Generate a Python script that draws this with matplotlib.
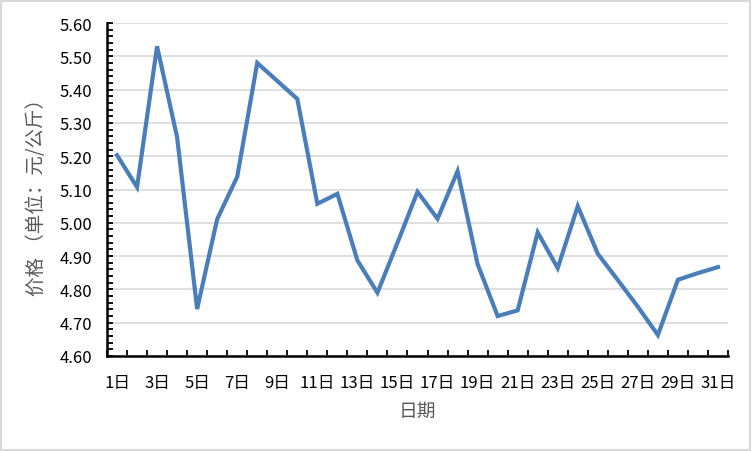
import matplotlib
matplotlib.use("Agg")
import matplotlib.pyplot as plt
from matplotlib.ticker import MultipleLocator, FixedLocator, FixedFormatter
from matplotlib.patches import Rectangle

plt.rcParams['font.family'] = ['Noto Sans CJK SC', 'DejaVu Sans']

days = list(range(1, 32))
prices = [5.203, 5.107, 5.530, 5.257, 4.741, 5.011, 5.138, 5.480, 5.426, 5.372,
          5.057, 5.087, 4.887, 4.790, 4.940, 5.093, 5.012, 5.155, 4.876, 4.720,
          4.737, 4.971, 4.864, 5.050, 4.907, 4.828, 4.748, 4.663, 4.829, 4.849,
          4.867]
tick_days = list(range(1, 32, 2))
tick_labels = [f"{d}日" for d in tick_days]
y_ticks = [4.6, 4.7, 4.8, 4.9, 5.0, 5.1, 5.2, 5.3, 5.4, 5.5, 5.6]

W, H = 752, 452
fig = plt.figure(figsize=(W / 100, H / 100), dpi=100)
fig.patch.set_facecolor('white')
fig.patches.append(Rectangle((1 / W, 1 / H), 1 - 3 / W, 1 - 3 / H,
                             transform=fig.transFigure, fill=False,
                             edgecolor='#d9d9d9', linewidth=1.5))

ax = fig.add_axes([107 / W, 1 - 357 / H, (728 - 107) / W, (357 - 24) / H])
ax.plot(days, prices, color='#4a7ebb', linewidth=3, solid_joinstyle='miter', zorder=3)

ax.set_xlim(0.5, 31.5)
ax.set_ylim(4.6, 5.6)

ax.yaxis.set_major_locator(FixedLocator(y_ticks))
ax.yaxis.set_major_formatter(FixedFormatter([f"{v:.2f}" for v in y_ticks]))
ax.yaxis.set_minor_locator(MultipleLocator(0.02))
ax.xaxis.set_major_locator(FixedLocator(tick_days))
ax.xaxis.set_major_formatter(FixedFormatter(tick_labels))
ax.xaxis.set_minor_locator(FixedLocator([d + 0.5 for d in range(0, 32)]))

ax.grid(axis='y', which='major', color='#d9d9d9', linewidth=1.2, zorder=0)
ax.set_axisbelow(True)

for s in ['top', 'right']:
    ax.spines[s].set_visible(False)
for s in ['left', 'bottom']:
    ax.spines[s].set_color('black')
    ax.spines[s].set_linewidth(1.8)

ax.tick_params(axis='y', which='both', direction='in', length=4.5, width=1.3,
               color='black', labelsize=12, labelcolor='black', pad=10.5)
ax.tick_params(axis='x', which='major', length=0, labelsize=12,
               labelcolor='black', pad=13)
ax.tick_params(axis='x', which='minor', direction='in', length=4.5, width=1.3,
               color='black')

ax.set_xlabel('日期', fontsize=13.5, color='#595959', labelpad=6)
fig.text(37 / W, 1 - 192 / H, '价格 （单位：元/公斤）', rotation=90,
         ha='center', va='center', fontsize=14, color='#595959')

fig.savefig('out.png', dpi=100)
